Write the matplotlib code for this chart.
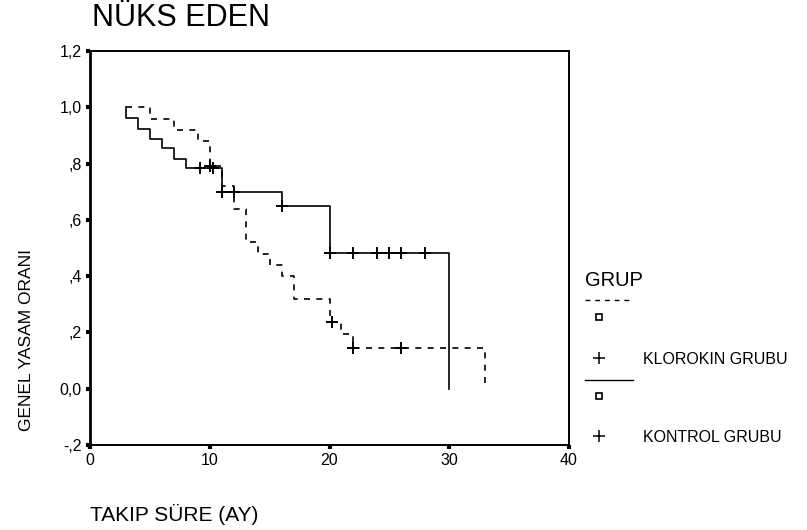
import numpy as np
import matplotlib
matplotlib.use("Agg")
import matplotlib.pyplot as plt
from matplotlib.lines import Line2D

plt.rcParams['font.family'] = ['Liberation Sans', 'DejaVu Sans']

# ---- data ----
title = "NÜKS EDEN"
x_label = "TAKIP SÜRE (AY)"
y_label = "GENEL YASAM ORANI"
legend_title = "GRUP"
group_names = ["KLOROKIN GRUBU", "KONTROL GRUBU"]

# KLOROKIN (dashed) step curve
klorokin_t = [3, 3, 5, 7, 9, 10, 11, 12, 13, 14, 15, 16, 17, 20, 21, 22, 33]
klorokin_s = [1.0, 1.0, 0.957, 0.92, 0.88, 0.79, 0.72, 0.637, 0.522, 0.478,
              0.438, 0.40, 0.319, 0.237, 0.194, 0.144, 0.0]
klorokin_cens_t = [10.0, 20.2, 22.0, 26.0]

# KONTROL (solid) step curve
kontrol_t = [3, 3, 4, 5, 6, 7, 8, 11, 16, 20, 30]
kontrol_s = [1.0, 0.961, 0.924, 0.889, 0.854, 0.817, 0.784, 0.700, 0.648, 0.484, 0.0]
kontrol_cens_t = [9.2, 10.3, 11.0, 12.0, 16.0, 20.0, 22.0, 24.0, 25.0, 26.0, 28.0]

x_ticks = [0, 10, 20, 30, 40]
x_tick_labels = ["0", "10", "20", "30", "40"]
y_ticks = [-0.2, 0.0, 0.2, 0.4, 0.6, 0.8, 1.0, 1.2]
y_tick_labels = ["-,2", "0,0", ",2", ",4", ",6", ",8", "1,0", "1,2"]


def step_value(ts, ss, t):
    ts = np.asarray(ts)
    ss = np.asarray(ss)
    idx = np.searchsorted(ts, t, side='right') - 1
    return ss[idx]


fig = plt.figure(figsize=(8.07, 5.30), dpi=100)
ax = fig.add_axes([90 / 807, 1 - 445 / 530, (569 - 90) / 807, (445 - 51) / 530])

ax.step(klorokin_t, klorokin_s, where='post', color='black', lw=1.2,
        dashes=(3.6, 3.8))
ax.step(kontrol_t, kontrol_s, where='post', color='black', lw=1.2)

kc_y = [step_value(klorokin_t, klorokin_s, t) for t in klorokin_cens_t]
ax.plot(klorokin_cens_t, kc_y, ls='none', marker='+', ms=9, mew=1.4, color='black')
ko_y = [step_value(kontrol_t, kontrol_s, t) for t in kontrol_cens_t]
ax.plot(kontrol_cens_t, ko_y, ls='none', marker='+', ms=9, mew=1.4, color='black')

ax.set_xlim(0, 40)
ax.set_ylim(-0.2, 1.2)
ax.set_xticks(x_ticks)
ax.set_xticklabels(x_tick_labels, fontsize=11.5)
ax.set_yticks(y_ticks)
ax.set_yticklabels(y_tick_labels, fontsize=11.5)
ax.tick_params(axis='both', direction='out', length=3, width=3, pad=3)
for s in ax.spines.values():
    s.set_linewidth(1.4)
ax.spines['left'].set_linewidth(2)

fig.text(92 / 807, 1 - 18 / 530, title, fontsize=22, va='center', ha='left')
fig.text(90 / 807, 1 - 514 / 530, x_label, fontsize=15, va='center', ha='left')
fig.text(27 / 807, 1 - 340 / 530, y_label, fontsize=12.5, rotation=90,
         va='center', ha='center')

# legend
W, H = 807, 530
fig.text(585 / W, 1 - 280 / H, legend_title, fontsize=14.5, va='center', ha='left')
fig.add_artist(Line2D([585 / W, 633 / W], [1 - 300 / H, 1 - 300 / H], color='black',
                      lw=1.0, dashes=(3.5, 3.5)))
fig.add_artist(Line2D([599 / W], [1 - 317 / H], marker='s', ms=4.5, mfc='white',
                      mec='black', mew=1.2, ls='none'))
fig.add_artist(Line2D([599 / W], [1 - 358 / H], marker='+', ms=8, mew=1.1,
                      color='black', ls='none'))
fig.text(643 / W, 1 - 360 / H, group_names[0], fontsize=11.5, va='center', ha='left')
fig.add_artist(Line2D([585 / W, 633 / W], [1 - 380 / H, 1 - 380 / H], color='black', lw=1.0))
fig.add_artist(Line2D([599 / W], [1 - 396 / H], marker='s', ms=4.5, mfc='white',
                      mec='black', mew=1.2, ls='none'))
fig.add_artist(Line2D([599 / W], [1 - 436 / H], marker='+', ms=8, mew=1.1,
                      color='black', ls='none'))
fig.text(643 / W, 1 - 438 / H, group_names[1], fontsize=11.5, va='center', ha='left')

fig.savefig("out.png", dpi=100)
